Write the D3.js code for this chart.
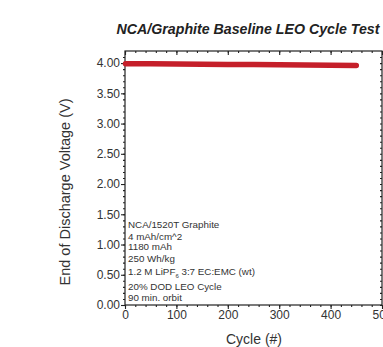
<!DOCTYPE html>
<html><head><meta charset="utf-8">
<script src="https://cdn.jsdelivr.net/npm/d3@7"></script>
<style>html,body{margin:0;padding:0;background:#fff;overflow:hidden}</style>
</head><body>
<script>
const cycles = [1, 50, 100, 150, 200, 250, 300, 350, 400, 450];
const voltages = [3.99, 3.99, 3.985, 3.98, 3.977, 3.975, 3.972, 3.97, 3.966, 3.962];
const xTicks = [0, 100, 200, 300, 400, 500];
const yTicks = [0, 0.5, 1.0, 1.5, 2.0, 2.5, 3.0, 3.5, 4.0];
const notes = ["NCA/1520T Graphite", "4 mAh/cm^2", "1180 mAh", "250 Wh/kg", "LIPF", "20% DOD LEO Cycle", "90 min. orbit"];
const title = "NCA/Graphite Baseline LEO Cycle Test";

const W = 383, H = 347;
const m = {l: 125, r: 382, t: 51, b: 305};
const svg = d3.select("body").append("svg").attr("width", W).attr("height", H)
  .style("font-family", "Arial, 'Liberation Sans', sans-serif");
const x = d3.scaleLinear().domain([0, 500]).range([m.l, m.r]);
const y = d3.scaleLinear().domain([0, 4.2]).range([m.b, m.t]);
const axCol = "#222";

svg.append("rect").attr("x", m.l).attr("y", m.t).attr("width", m.r - m.l).attr("height", m.b - m.t)
  .attr("fill", "none").attr("stroke", axCol).attr("stroke-width", 1.2);

const fmt = d3.format(".2f");
const gl = svg.append("g").attr("transform", `translate(${m.l},0)`)
  .call(d3.axisLeft(y).tickValues(yTicks).tickFormat(fmt).tickSize(4).tickPadding(1));
const gl2 = svg.append("g").attr("transform", `translate(${m.l},0)`)
  .call(d3.axisLeft(y).tickValues(d3.range(0, 42).map(i => i / 10)).tickFormat("").tickSize(2));
const gb = svg.append("g").attr("transform", `translate(0,${m.b})`)
  .call(d3.axisBottom(x).tickValues(xTicks).tickFormat(d3.format("d")).tickSize(4).tickPadding(1));
const gb2 = svg.append("g").attr("transform", `translate(0,${m.b})`)
  .call(d3.axisBottom(x).tickValues(d3.range(0, 501, 20)).tickFormat("").tickSize(2));
const gt = svg.append("g").attr("transform", `translate(0,${m.t})`)
  .call(d3.axisBottom(x).tickValues(xTicks).tickFormat("").tickSize(4));
const gt2 = svg.append("g").attr("transform", `translate(0,${m.t})`)
  .call(d3.axisBottom(x).tickValues(d3.range(0, 501, 20)).tickFormat("").tickSize(2));
const gr = svg.append("g").attr("transform", `translate(${m.r},0)`)
  .call(d3.axisLeft(y).tickValues(d3.range(0, 42).map(i => i / 10)).tickFormat("").tickSize(2));

[gl, gl2, gb, gb2, gt, gt2, gr].forEach(g => {
  g.select(".domain").remove();
  g.selectAll("line").attr("stroke", axCol).attr("stroke-width", 1.1);
});
gl.selectAll("text").attr("font-size", 12).attr("fill", "#333");
gb.selectAll("text").attr("font-size", 12).attr("fill", "#333");

const line = d3.line().x((d, i) => x(cycles[i])).y(d => y(d));
svg.append("path").datum(voltages).attr("d", line)
  .attr("fill", "none").attr("stroke", "#c51f2a").attr("stroke-width", 5.5)
  .attr("stroke-linecap", "round").attr("stroke-linejoin", "round");

svg.append("text").attr("x", 248).attr("y", 34).attr("text-anchor", "middle")
  .attr("font-size", 14.2).attr("font-weight", "bold").attr("font-style", "italic")
  .attr("fill", "#222").text(title);

svg.append("text").attr("transform", `translate(70,192) rotate(-90)`).attr("text-anchor", "middle")
  .attr("font-size", 14.5).attr("fill", "#333").text("End of Discharge Voltage (V)");
svg.append("text").attr("x", 254).attr("y", 344).attr("text-anchor", "middle")
  .attr("font-size", 14).attr("fill", "#333").text("Cycle (#)");

const noteY = [228, 240, 250, 262, 275, 290, 301];
notes.forEach((t, i) => {
  const tx = svg.append("text").attr("x", 128).attr("y", noteY[i])
    .attr("font-size", 9.8).attr("fill", "#333");
  if (t === "LIPF") {
    tx.append("tspan").text("1.2 M LiPF");
    tx.append("tspan").attr("font-size", 6).attr("dy", 3).text("6");
    tx.append("tspan").attr("dy", -3).text(" 3:7 EC:EMC (wt)");
  } else tx.text(t);
});
</script>
</body></html>
